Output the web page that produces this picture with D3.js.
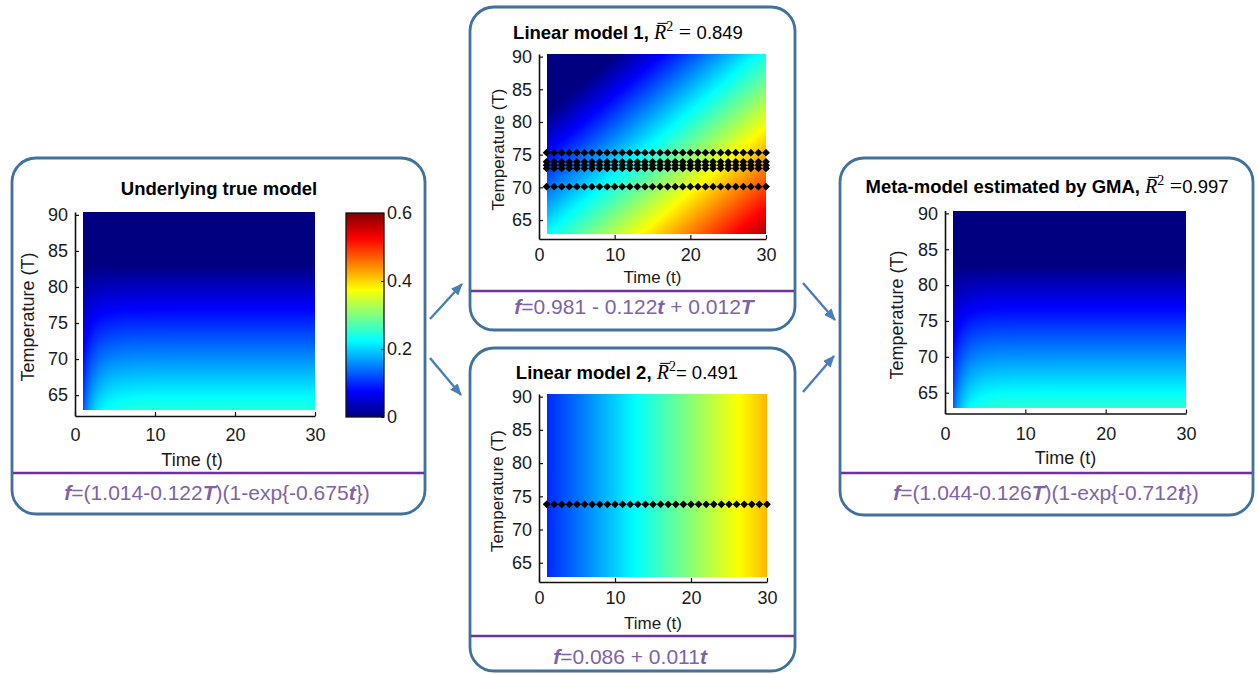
<!DOCTYPE html>
<html><head><meta charset="utf-8">
<script src="https://cdn.jsdelivr.net/npm/d3@7"></script>
<style>
body{margin:0;background:#fff;}
svg{display:block;font-family:"Liberation Sans",Arial,sans-serif;}
</style>
</head><body>
<svg id="chart" width="1257" height="674"></svg>
<script>
// ================= DATA =================
const timeTicks = [0, 10, 20, 30];
const tempTicks = [65, 70, 75, 80, 85, 90];
const timeDomain = [0, 30];
const tempDomain = [62.1, 90.4];
const gridTimeRange = [1, 30];
const gridTempRange = [62.9, 90.4];
const valueDomain = [0, 0.6];
const colorbarTicks = [0, 0.2, 0.4, 0.6];
const colorbarTickLabels = ["0", "0.2", "0.4", "0.6"];
const jetStops = ["#000080", "#0000ff", "#00ffff", "#ffff00", "#ff0000", "#800000"];
const jetStopPositions = [0, 0.125, 0.375, 0.625, 0.875, 1];
const sampleTimes = [1,2,3,4,5,6,7,8,9,10,11,12,13,14,15,16,17,18,19,20,21,22,23,24,25,26,27,28,29,30];
const model1SampleTemps = [75.3, 73.9, 73.4, 72.9, 70.1];
const model2SampleTemps = [73.8];
// coefficients printed in the figure (T enters in tens of degrees)
const trueModelCoef = [1.014, -0.122, -0.675];   // (a + b·T)(1 − exp(c·t))
const linear1Coef   = [0.981, 0.012, -0.122];    // a + b·t + c·T
const linear2Coef   = [0.086, 0.011];            // a + b·t
const metaModelCoef = [1.044, -0.126, -0.712];   // (a + b·T)(1 − exp(c·t))
const xLabelText = "Time (t)";
const yLabelText = "Temperature (T)";

// ================= HELPERS =================
const svg = d3.select("#chart");
svg.append("rect").attr("width",1257).attr("height",674).attr("fill","#fff");
const jet = d3.scaleLinear()
  .domain(jetStopPositions.map(p => valueDomain[0] + p*(valueDomain[1]-valueDomain[0])))
  .range(jetStops).clamp(true);

const BOX = "#41719c", DIV = "#7030a0", FORM = "#7f63a6", ARROW = "#4a7ebb";
const SERIF = "'Liberation Serif','Times New Roman',serif";

function richText(g, x, y, parts, size, anchor) {
  const t = g.append("text").attr("x", x).attr("y", y).attr("text-anchor", anchor || "middle")
    .attr("dy", "0.35em").attr("font-size", size).attr("fill", "#000");
  let shift = 0, idx = 0; const bars = [];
  parts.forEach(p => {
    const s = t.append("tspan").text(p.t);
    let want = p.sup ? -8 : 0;
    if (want !== shift) { s.attr("dy", want - shift); shift = want; }
    if (p.bold) s.attr("font-weight", "bold");
    if (p.italic) s.attr("font-style", "italic");
    if (p.serif) s.attr("font-family", SERIF);
    if (p.sup) s.attr("font-size", 14);
    if (p.size) s.attr("font-size", p.size);
    if (p.fill) s.attr("fill", p.fill);
    if (p.over) bars.push({i: idx, size: p.size || size});
    idx += p.t.length;
  });
  const node = t.node();
  bars.forEach(b => {
    const st = node.getStartPositionOfChar(b.i), en = node.getEndPositionOfChar(b.i);
    const yb = st.y - 0.68*b.size - 2.5;
    g.append("line").attr("x1", st.x + 3.5).attr("x2", en.x + 1.5).attr("y1", yb).attr("y2", yb)
      .attr("stroke", "#000").attr("stroke-width", 1);
  });
  return t;
}

function drawHeatmap(g, xS, yS, valueFn) {
  const x0 = Math.round(xS(gridTimeRange[0])), x1 = Math.round(xS(gridTimeRange[1]));
  const y0 = Math.round(yS(gridTempRange[1])), y1 = Math.round(yS(gridTempRange[0]));
  const w = x1 - x0, h = y1 - y0, k = 2;
  const cv = document.createElement("canvas"); cv.width = w*k; cv.height = h*k;
  const ctx = cv.getContext("2d"); const img = ctx.createImageData(w*k, h*k);
  for (let j = 0; j < h*k; j++) {
    const T = yS.invert(y0 + (j+0.5)/k);
    for (let i = 0; i < w*k; i++) {
      const t = xS.invert(x0 + (i+0.5)/k);
      const c = d3.rgb(jet(valueFn(t, T)));
      const o = (j*w*k + i)*4;
      img.data[o]=c.r; img.data[o+1]=c.g; img.data[o+2]=c.b; img.data[o+3]=255;
    }
  }
  ctx.putImageData(img, 0, 0);
  g.append("image").attr("x", x0).attr("y", y0).attr("width", w).attr("height", h)
    .attr("preserveAspectRatio","none").attr("href", cv.toDataURL());
}

function drawPanel(cfg) {
  const g = svg.append("g");
  const [bx0, by0, bx1, by1] = cfg.box;
  g.append("rect").attr("x", bx0).attr("y", by0).attr("width", bx1-bx0).attr("height", by1-by0)
    .attr("rx", 24).attr("fill", "#fff").attr("stroke", BOX).attr("stroke-width", 2.8);
  g.append("line").attr("x1", bx0+1).attr("x2", bx1-1).attr("y1", cfg.divY).attr("y2", cfg.divY)
    .attr("stroke", DIV).attr("stroke-width", 2.4);

  const xS = d3.scaleLinear().domain(timeDomain).range(cfg.x);
  const yS = d3.scaleLinear().domain(tempDomain).range(cfg.y);
  drawHeatmap(g, xS, yS, cfg.fn);

  (cfg.samples || []).forEach(T => {
    g.selectAll(null).data(sampleTimes).enter().append("path")
      .attr("d", d3.symbol().type(d3.symbolSquare).size(30)())
      .attr("transform", t => `translate(${xS(t)},${yS(T)}) rotate(45)`)
      .attr("fill", "#000");
  });

  const ax = g.append("g").attr("transform", `translate(0,${cfg.y[0]})`)
    .call(d3.axisBottom(xS).tickValues(timeTicks).tickFormat(d3.format("d"))
      .tickSizeInner(-4).tickSizeOuter(0).tickPadding(cfg.xPad));
  const ay = g.append("g").attr("transform", `translate(${cfg.x[0]},0)`)
    .call(d3.axisLeft(yS).tickValues(tempTicks).tickFormat(d3.format("d"))
      .tickSizeInner(-4).tickSizeOuter(0).tickPadding(7));
  [ax, ay].forEach(a => {
    a.select(".domain").attr("stroke", "#111").attr("stroke-width", 1.6);
    a.selectAll(".tick line").attr("stroke", "#111").attr("stroke-width", 1.2);
    a.selectAll(".tick text").attr("font-size", 18).attr("fill", "#1a1a1a")
      .attr("font-family", "'Liberation Sans',Arial,sans-serif");
  });

  g.append("text").attr("x", (cfg.x[0]+cfg.x[1])/2 + cfg.xLabelDx).attr("y", cfg.xLabelY).attr("dy","0.35em")
    .attr("text-anchor","middle").attr("font-size", cfg.labelSize).attr("fill","#1a1a1a").text(xLabelText);
  g.append("text").attr("transform", `translate(${cfg.yLabelX},${(cfg.y[0]+cfg.y[1])/2 + 3}) rotate(-90)`)
    .attr("dy","0.35em").attr("text-anchor","middle").attr("font-size", cfg.labelSize)
    .attr("fill","#1a1a1a").text(yLabelText);

  richText(g, cfg.title.x, cfg.title.y, cfg.titleParts, 18.5);
  richText(g, cfg.formula.x, cfg.formula.y, cfg.formulaParts.map(p => Object.assign({fill: FORM}, p)), 21);
  return {g, xS, yS};
}

const rbar = (restParts) => [
  {t: "R", italic: true, serif: true, over: true, size: 20},
  {t: "2", sup: true, serif: true}
].concat(restParts);

// ================= PANELS =================
drawPanel({
  box: [12, 158, 425, 514], divY: 473, x: [75, 315], y: [416, 212],
  fn: (t, T) => (trueModelCoef[0] + trueModelCoef[1]*T/10) * (1 - Math.exp(trueModelCoef[2]*t)),
  title: {x: 219, y: 189}, titleParts: [{t: "Underlying true model", bold: true}],
  formula: {x: 217, y: 493},
  formulaParts: [{t:"f", bold:true, italic:true},{t:"=(1.014-0.122"},{t:"T", bold:true, italic:true},
                 {t:")(1-exp{-0.675"},{t:"t", bold:true, italic:true},{t:"})"}],
  yLabelX: 28, xLabelY: 460, xLabelDx: -3, xPad: 12.5, labelSize: 18
});

drawPanel({
  box: [470, 7, 795, 330], divY: 291, x: [539, 766], y: [239, 54],
  fn: (t, T) => linear1Coef[0] + linear1Coef[1]*t + linear1Coef[2]*T/10,
  samples: model1SampleTemps,
  title: {x: 628, y: 33},
  titleParts: [{t: "Linear model 1, ", bold: true}].concat(rbar([
    {t: " = ", serif: true, size: 22}, {t: "0.849"}])),
  formula: {x: 634, y: 307},
  formulaParts: [{t:"f", bold:true, italic:true},{t:"=0.981 - 0.122"},{t:"t", bold:true, italic:true},
                 {t:" + 0.012"},{t:"T", bold:true, italic:true}],
  yLabelX: 498, xLabelY: 277, xLabelDx: 0, xPad: 9.5, labelSize: 17
});

drawPanel({
  box: [470, 348, 795, 671], divY: 636, x: [539, 767], y: [582, 394],
  fn: (t, T) => linear2Coef[0] + linear2Coef[1]*t,
  samples: model2SampleTemps,
  title: {x: 627, y: 373},
  titleParts: [{t: "Linear model 2, ", bold: true}].concat(rbar([{t: "= 0.491"}])),
  formula: {x: 630, y: 657},
  formulaParts: [{t:"f", bold:true, italic:true},{t:"=0.086 + 0.011"},{t:"t", bold:true, italic:true}],
  yLabelX: 497, xLabelY: 623, xLabelDx: 0, xPad: 9.5, labelSize: 17
});

drawPanel({
  box: [840, 158, 1253, 515], divY: 473, x: [945, 1186], y: [413.5, 210.5],
  fn: (t, T) => (metaModelCoef[0] + metaModelCoef[1]*T/10) * (1 - Math.exp(metaModelCoef[2]*t)),
  title: {x: 1047, y: 187},
  titleParts: [{t: "Meta-model estimated by GMA, ", bold: true}].concat(rbar([
    {t: " =", serif: true, size: 22}, {t: "0.997"}])),
  formula: {x: 1046, y: 493},
  formulaParts: [{t:"f", bold:true, italic:true},{t:"=(1.044-0.126"},{t:"T", bold:true, italic:true},
                 {t:")(1-exp{-0.712"},{t:"t", bold:true, italic:true},{t:"})"}],
  yLabelX: 897, xLabelY: 458, xLabelDx: 0, xPad: 13.5, labelSize: 18
});

// ================= COLORBAR =================
const cbX = [346, 384];
const cbS = d3.scaleLinear().domain(valueDomain).range([417, 213]);
const defs = svg.append("defs");
const lg = defs.append("linearGradient").attr("id","jetGrad").attr("x1",0).attr("y1",1).attr("x2",0).attr("y2",0);
jetStops.forEach((c, i) => lg.append("stop").attr("offset", jetStopPositions[i]).attr("stop-color", c));
svg.append("rect").attr("x", cbX[0]).attr("y", cbS(valueDomain[1])).attr("width", cbX[1]-cbX[0])
  .attr("height", cbS(valueDomain[0]) - cbS(valueDomain[1])).attr("fill","url(#jetGrad)")
  .attr("stroke","#111").attr("stroke-width",1.3);
const cbAxis = svg.append("g").attr("transform", `translate(${cbX[1]},0)`)
  .call(d3.axisRight(cbS).tickValues(colorbarTicks).tickFormat((d,i) => colorbarTickLabels[i])
    .tickSizeInner(-3).tickSizeOuter(0).tickPadding(3));
cbAxis.select(".domain").remove();
cbAxis.selectAll(".tick line").attr("stroke","#111");
cbAxis.selectAll(".tick text").attr("font-size",18).attr("fill","#1a1a1a")
  .attr("font-family","'Liberation Sans',Arial,sans-serif");

// ================= ARROWS =================
defs.append("marker").attr("id","arrowHead").attr("viewBox","0 0 12 10").attr("refX",11).attr("refY",5)
  .attr("markerWidth",12).attr("markerHeight",10).attr("markerUnits","userSpaceOnUse").attr("orient","auto")
  .append("path").attr("d","M0,0 L12,5 L0,10 Z").attr("fill", ARROW);
const arrows = [
  [[430, 319], [462, 284]],
  [[430, 358], [461, 395]],
  [[803, 283], [835, 320]],
  [[803, 392], [834, 356]]
];
svg.selectAll(".arrow").data(arrows).enter().append("line").attr("class","arrow")
  .attr("x1", d => d[0][0]).attr("y1", d => d[0][1]).attr("x2", d => d[1][0]).attr("y2", d => d[1][1])
  .attr("stroke", ARROW).attr("stroke-width", 2.4).attr("marker-end","url(#arrowHead)");
</script>
</body></html>
